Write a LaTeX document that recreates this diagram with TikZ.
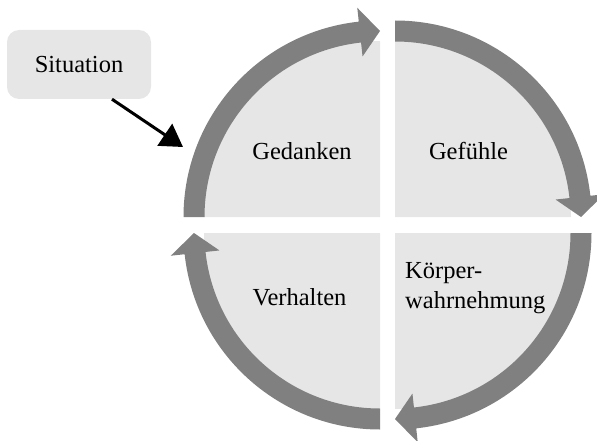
\documentclass[tikz,border=0pt]{standalone}
\usepackage{fontspec}
\setmainfont{Liberation Serif}
\usetikzlibrary{arrows.meta}
\definecolor{ringgray}{HTML}{808080}
\definecolor{quadfill}{HTML}{E6E6E6}
% #1 centre, #2 start angle, #3 tip angle (clockwise travel)
\newcommand\ringarrow[3]{%
  \pgfmathsetmacro\rabase{#3+6.2}%
  \begin{scope}[shift={#1}]
    \fill[ringgray] (#2:196.5pt) arc[start angle=#2, end angle=\rabase, radius=196.5pt]
      -- (\rabase:210.5pt) -- (#3:186pt) -- (\rabase:161.5pt) -- (\rabase:175.5pt)
      arc[start angle=\rabase, end angle=#2, radius=175.5pt] -- cycle;
  \end{scope}}
\newcommand\quadsector[3]{%
  \fill[quadfill] #1 -- ++(#2:176pt) arc[start angle=#2, end angle=#3, radius=176pt] -- cycle;}
\tikzset{
  lbl/.style={font=\fontsize{24.5}{30}\selectfont, inner sep=0pt},
  sitbox/.style={fill=quadfill, rounded corners=12pt, minimum width=144pt, minimum height=69pt, inner sep=0pt, font=\fontsize{24.5}{30}\selectfont},
}
\begin{document}
\begin{tikzpicture}[x=1pt,y=1pt]
\useasboundingbox (0,0) rectangle (597,440);
% quadrant fills
\quadsector{(380,223)}{180}{90}
\quadsector{(395,223)}{90}{0}
\quadsector{(395,207)}{0}{-90}
\quadsector{(380,207)}{270}{180}
% ring arrows
\ringarrow{(380,223)}{180}{90}
\ringarrow{(395,223)}{90}{0}
\ringarrow{(395,207)}{0}{-90}
\ringarrow{(380,207)}{270}{180}
% labels
\node[lbl, anchor=base] (ged) at (302,280) {Gedanken};
\node[lbl, anchor=base] (gef) at (468.5,280) {Gefühle};
\node[lbl, anchor=base] (ver) at (299.5,135) {Verhalten};
\node[lbl, anchor=base west, align=left] (koe) at (405,132) {Körper-\\wahrnehmung};
% situation
\node[sitbox] (sit) at (79,375.5) {Situation};
\coordinate (sittip) at (183,293);
\draw[line width=3pt, -{Triangle[length=22pt,width=26pt]}] ([xshift=33pt]sit.south) -- (sittip);
\end{tikzpicture}
\end{document}
